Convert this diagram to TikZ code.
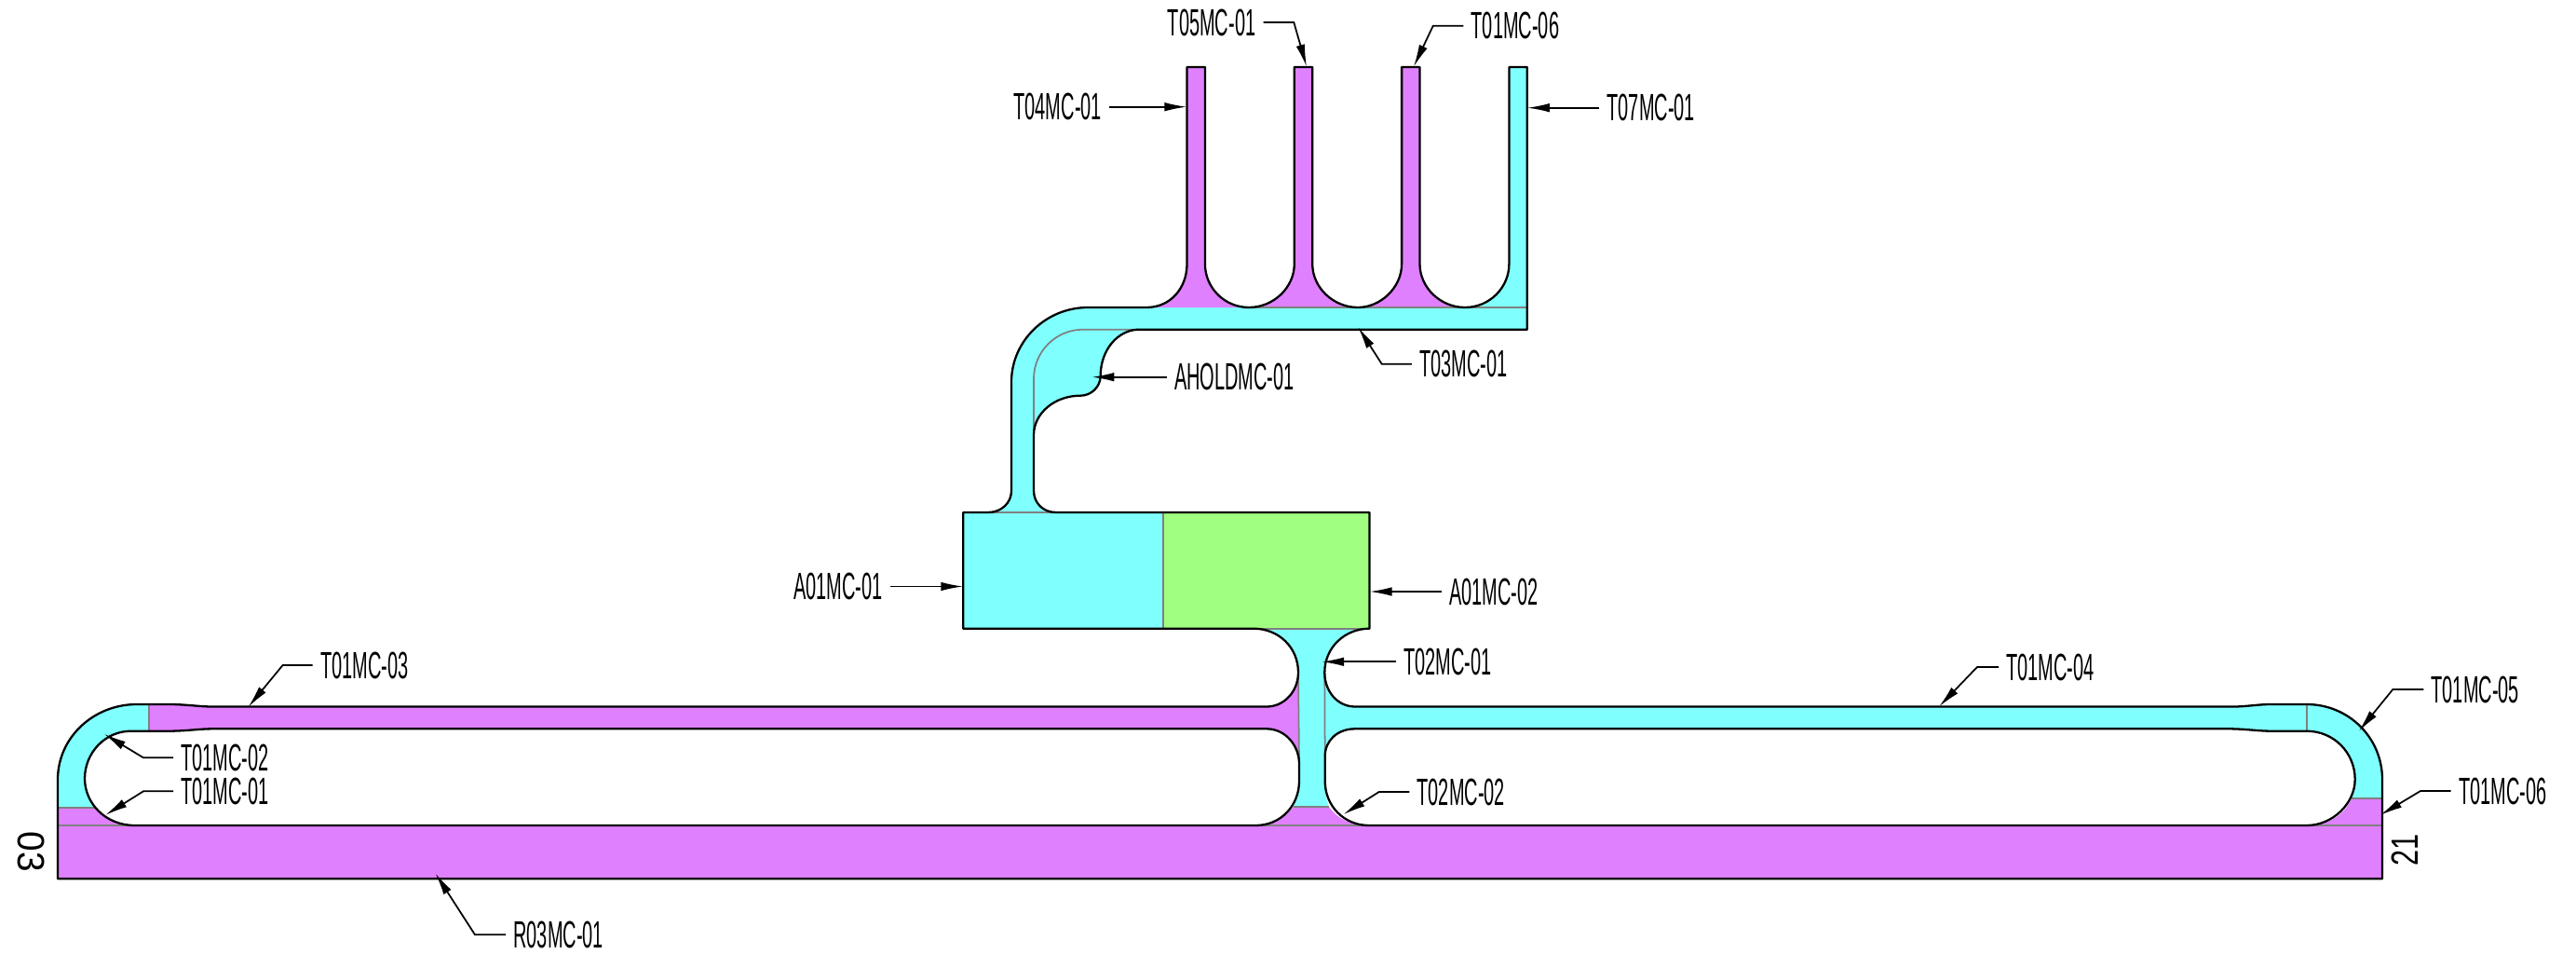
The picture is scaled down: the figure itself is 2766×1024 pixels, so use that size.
\documentclass[tikz,border=0pt]{standalone}
\usepackage{fontspec}
\setmainfont{Liberation Sans}
\usetikzlibrary{arrows.meta}

\definecolor{runpurple}{RGB}{223,128,255}
\definecolor{runcyan}{RGB}{128,255,255}
\definecolor{rungreen}{RGB}{160,255,128}
\definecolor{seamgray}{RGB}{128,128,128}

\tikzset{
  outline/.style={draw=black,line width=0.65pt,line join=round},
  seam/.style={draw=seamgray,line width=0.5pt},
  leader/.style={draw=black,line width=0.5pt,-{Latex[length=0.24cm,width=0.095cm]}},
  tag/.style={font=\fontsize{11.6}{13}\selectfont,xscale=0.49,inner xsep=0.163cm,inner ysep=0pt,text depth=0pt},
  tagr/.style={tag,anchor=west},
  tagl/.style={tag,anchor=east},
  endno/.style={font=\fontsize{11.6}{13}\selectfont,inner sep=0pt,text depth=0pt}
}

\begin{document}
\begin{tikzpicture}[x=0.01cm,y=-0.01cm]
\useasboundingbox (0,0) rectangle (2766,1024);

% fills
\fill[runcyan] (1034.3,550) rectangle (1249.3,674.7);
\fill[rungreen] (1249.3,550) rectangle (1470.5,674.7);
\fill[runpurple] (62,886) rectangle (2558,943.3);

\fill[runcyan] (1061,550) .. controls (1075,550) and (1086,540) .. (1086,526.7) -- (1086,410)
  .. controls (1086,366) and (1123,330) .. (1168.3,330) -- (1573,330)
  .. controls (1599,330) and (1620.4,309) .. (1620.4,283.3) -- (1620.4,72) -- (1639.8,72) -- (1639.8,353.7) -- (1223.3,353.7)
  .. controls (1200,353.7) and (1181.7,376) .. (1181.7,403.3)
  .. controls (1181.7,415) and (1172,424.7) .. (1160,424.7)
  .. controls (1132,424.7) and (1110,444) .. (1110,466.7) -- (1110,526.7)
  .. controls (1110,540) and (1120,550) .. (1134,550) -- cycle;

\fill[runpurple] (1231,330) .. controls (1257,330) and (1274.5,309) .. (1274.5,283.3) -- (1274.5,72) -- (1293.9,72) -- (1293.9,283.3)
  .. controls (1293.9,309) and (1315,330) .. (1341,330)
  .. controls (1367,330) and (1389.8,309) .. (1389.8,283.3) -- (1389.8,72) -- (1409.2,72) -- (1409.2,283.3)
  .. controls (1409.2,309) and (1432,330) .. (1458,330)
  .. controls (1482,330) and (1505.1,309) .. (1505.1,283.3) -- (1505.1,72) -- (1524.5,72) -- (1524.5,283.3)
  .. controls (1524.5,309) and (1547,330) .. (1573,330) -- cycle;

% left loop
\fill[runcyan] (62,867) -- (62,836.7) .. controls (62,792) and (100,756) .. (147,756) -- (160,756) -- (160,784.7) -- (140.6,784.7)
  .. controls (113,784.7) and (91,808) .. (91,835.7) .. controls (91,848) and (96,858) .. (103,867) -- cycle;
\fill[runpurple] (62,867) -- (103,867) .. controls (112,878) and (128,886) .. (145,886) -- (62,886) -- cycle;
\fill[runpurple] (160,756) -- (181,756) .. controls (200,756) and (214,758.5) .. (228,758.5) -- (1360,758.5)
  .. controls (1379,758.5) and (1394,742) .. (1394,721.7) -- (1395,820)
  .. controls (1395,800) and (1380,782.3) .. (1360,782.3) -- (228,782.3)
  .. controls (214,782.3) and (200,784.7) .. (181,784.7) -- (160,784.7) -- cycle;

% right loop
\fill[runcyan] (1422.3,721.7) .. controls (1422.3,742) and (1436,758.5) .. (1455,758.5) -- (2398,758.5)
  .. controls (2412,758.5) and (2425,756) .. (2438,756) -- (2476.7,756)
  .. controls (2522,756) and (2558,792) .. (2558,836.7) -- (2558,856.7) -- (2525,856.7)
  .. controls (2527,851) and (2528.7,844) .. (2528.7,836.7)
  .. controls (2528.7,808) and (2506,784.7) .. (2476.7,784.7) -- (2438,784.7)
  .. controls (2425,784.7) and (2410,782.3) .. (2393,782.3) -- (1455,782.3)
  .. controls (1436,782.3) and (1422.7,795) .. (1422.7,811.7) -- cycle;
\fill[runpurple] (2525,856.7) -- (2558,856.7) -- (2558,886) -- (2476.7,886) .. controls (2503,886) and (2519,872) .. (2525,856.7) -- cycle;

% stem
\fill[runcyan] (1346,674.7) -- (1470.3,674.7) .. controls (1444,674.7) and (1422.3,695) .. (1422.3,721.7) -- (1422.7,838.3)
  .. controls (1422.7,851) and (1424,858) .. (1427,866) -- (1388.5,866)
  .. controls (1393,858) and (1395,851) .. (1395,838.3) -- (1394,721.7)
  .. controls (1394,695) and (1373,674.7) .. (1346,674.7) -- cycle;
\fill[runpurple] (1388.5,866) -- (1427,866) .. controls (1435,878) and (1450,886) .. (1470,886) -- (1348.3,886)
  .. controls (1365,886) and (1380,878) .. (1388.5,866) -- cycle;

% seams
\draw[seam] (1249.3,550)--(1249.3,674.7);
\draw[seam] (1061,550)--(1134,550);
\draw[seam] (1346,674.7)--(1470.3,674.7);
\draw[seam] (1341,330)--(1639.8,330);
\draw[seam] (1110,466.7)--(1110,406.7) .. controls (1110,377) and (1134,353.7) .. (1163,353.7) -- (1223.3,353.7);
\draw[seam] (1394,721.7)--(1395,820);
\draw[seam] (1422.3,721.7)--(1422.7,811.7);
\draw[seam] (1388.5,866)--(1427,866);
\draw[seam] (1348.3,886)--(1470,886);
\draw[seam] (62,886)--(145,886);
\draw[seam] (2476.7,886)--(2558,886);
\draw[seam] (62,867)--(103,867);
\draw[seam] (2525,856.7)--(2558,856.7);
\draw[seam] (160,756)--(160,784.7);
\draw[seam] (2476.7,756)--(2476.7,784.7);

% outlines
\draw[outline] (1061,550) .. controls (1075,550) and (1086,540) .. (1086,526.7) -- (1086,410)
  .. controls (1086,366) and (1123,330) .. (1168.3,330) -- (1231,330)
  .. controls (1257,330) and (1274.5,309) .. (1274.5,283.3) -- (1274.5,72) -- (1293.9,72) -- (1293.9,283.3)
  .. controls (1293.9,309) and (1315,330) .. (1341,330)
  .. controls (1367,330) and (1389.8,309) .. (1389.8,283.3) -- (1389.8,72) -- (1409.2,72) -- (1409.2,283.3)
  .. controls (1409.2,309) and (1432,330) .. (1458,330)
  .. controls (1482,330) and (1505.1,309) .. (1505.1,283.3) -- (1505.1,72) -- (1524.5,72) -- (1524.5,283.3)
  .. controls (1524.5,309) and (1547,330) .. (1573,330)
  .. controls (1599,330) and (1620.4,309) .. (1620.4,283.3) -- (1620.4,72) -- (1639.8,72) -- (1639.8,353.7) -- (1223.3,353.7)
  .. controls (1200,353.7) and (1181.7,376) .. (1181.7,403.3)
  .. controls (1181.7,415) and (1172,424.7) .. (1160,424.7)
  .. controls (1132,424.7) and (1110,444) .. (1110,466.7) -- (1110,526.7)
  .. controls (1110,540) and (1120,550) .. (1134,550);
\draw[outline] (1061,550) -- (1034.3,550) -- (1034.3,674.7) -- (1346,674.7)
  .. controls (1373,674.7) and (1394,695) .. (1394,721.7)
  .. controls (1394,742) and (1379,758.5) .. (1360,758.5) -- (228,758.5)
  .. controls (214,758.5) and (200,756) .. (181,756) -- (147,756)
  .. controls (100,756) and (62,792) .. (62,836.7) -- (62,943.3) -- (2558,943.3) -- (2558,836.7)
  .. controls (2558,792) and (2522,756) .. (2476.7,756) -- (2438,756)
  .. controls (2425,756) and (2412,758.5) .. (2398,758.5) -- (1455,758.5)
  .. controls (1436,758.5) and (1422.3,742) .. (1422.3,721.7)
  .. controls (1422.3,695) and (1444,674.7) .. (1470.5,674.7) -- (1470.5,550) -- (1134,550);
\draw[outline] (145,886) .. controls (113,886) and (91,862) .. (91,835.7)
  .. controls (91,808) and (113,784.7) .. (140.6,784.7) -- (181,784.7)
  .. controls (200,784.7) and (214,782.3) .. (228,782.3) -- (1360,782.3)
  .. controls (1380,782.3) and (1395,800) .. (1395,820) -- (1395,838.3)
  .. controls (1395,865) and (1375,886) .. (1348.3,886) -- cycle;
\draw[outline] (1470,886) .. controls (1443,886) and (1422.7,865) .. (1422.7,838.3) -- (1422.7,811.7)
  .. controls (1422.7,795) and (1436,782.3) .. (1455,782.3) -- (2393,782.3)
  .. controls (2410,782.3) and (2425,784.7) .. (2438,784.7) -- (2476.7,784.7)
  .. controls (2506,784.7) and (2528.7,808) .. (2528.7,836.7)
  .. controls (2528.7,862) and (2505,886) .. (2476.7,886) -- cycle;

% labels
\node[tagl] (t04) at (1191.3,114.7) {T04MC-01};
\node[tagl] (t05) at (1356.6,24) {T05MC-01};
\node[tagr] (t06a) at (1571.4,27.7) {T01MC-06};
\node[tagr] (t07) at (1717.3,115.7) {T07MC-01};
\node[tagr] (t03m) at (1515.8,390.7) {T03MC-01};
\node[tagr] (ahold) at (1252.7,404.7) {AHOLDMC-01};
\node[tagl] (a01) at (956,629.5) {A01MC-01};
\node[tagr] (a02) at (1548,635) {A01MC-02};
\node[tagr] (t21) at (1499,710.3) {T02MC-01};
\node[tagr] (t22) at (1513.3,850) {T02MC-02};
\node[tagr] (t13) at (335.7,714) {T01MC-03};
\node[tagr] (t14) at (2146,716) {T01MC-04};
\node[tagr] (t12) at (186,813.3) {T01MC-02};
\node[tagr] (t11) at (186,849.3) {T01MC-01};
\node[tagr] (t15) at (2602.3,740) {T01MC-05};
\node[tagr] (t06b) at (2631.7,849) {T01MC-06};
\node[tagr] (r03) at (543,1003.3) {R03MC-01};
\node[endno,rotate=-90,xscale=0.95] (no03) at (33.5,914) {03};
\node[endno,rotate=90,xscale=0.75] (no21) at (2582,912.7) {21};

% leaders
\coordinate (t04p) at (1274.5,114.7);
\coordinate (t07p) at (1639.8,115.7);
\coordinate (t21p) at (1419,710.3);
\coordinate (aholdp) at (1172.3,404.7);
\coordinate (a01p) at (1034.3,629.5);
\coordinate (a02p) at (1470.5,635);
\coordinate (t05k) at (1389.3,24);
\coordinate (t05p) at (1403,71.7);
\coordinate (t06ak) at (1538.8,27.7);
\coordinate (t06ap) at (1517.9,71.7);
\coordinate (t03k) at (1483.7,390.7);
\coordinate (t03p) at (1458.2,351);
\coordinate (t22k) at (1480.7,850);
\coordinate (t22p) at (1442.3,874.3);
\coordinate (t13k) at (303.6,714);
\coordinate (t13p) at (266.5,759);
\coordinate (t14k) at (2123,716);
\coordinate (t14p) at (2082,758.5);
\coordinate (t12k) at (154,813.3);
\coordinate (t12p) at (111.6,787.7);
\coordinate (t11k) at (154,849.3);
\coordinate (t11p) at (113,875);
\coordinate (t15k) at (2569.3,740);
\coordinate (t15p) at (2532.7,785);
\coordinate (t06bk) at (2599,849);
\coordinate (t06bp) at (2555.7,875);
\coordinate (r03k) at (510,1003.3);
\coordinate (r03p) at (467.4,937.3);

\draw[leader] (t04.east)--(t04p);
\draw[leader] (t07.west)--(t07p);
\draw[leader] (t21.west)--(t21p);
\draw[leader] (ahold.west)--(aholdp);
\draw[leader] (a01.east)--(a01p);
\draw[leader] (a02.west)--(a02p);
\draw[leader] (t05.east)--(t05k)--(t05p);
\draw[leader] (t06a.west)--(t06ak)--(t06ap);
\draw[leader] (t03m.west)--(t03k)--(t03p);
\draw[leader] (t22.west)--(t22k)--(t22p);
\draw[leader] (t13.west)--(t13k)--(t13p);
\draw[leader] (t14.west)--(t14k)--(t14p);
\draw[leader] (t12.west)--(t12k)--(t12p);
\draw[leader] (t11.west)--(t11k)--(t11p);
\draw[leader] (t15.west)--(t15k)--(t15p);
\draw[leader] (t06b.west)--(t06bk)--(t06bp);
\draw[leader] (r03.west)--(r03k)--(r03p);
\end{tikzpicture}
\end{document}
